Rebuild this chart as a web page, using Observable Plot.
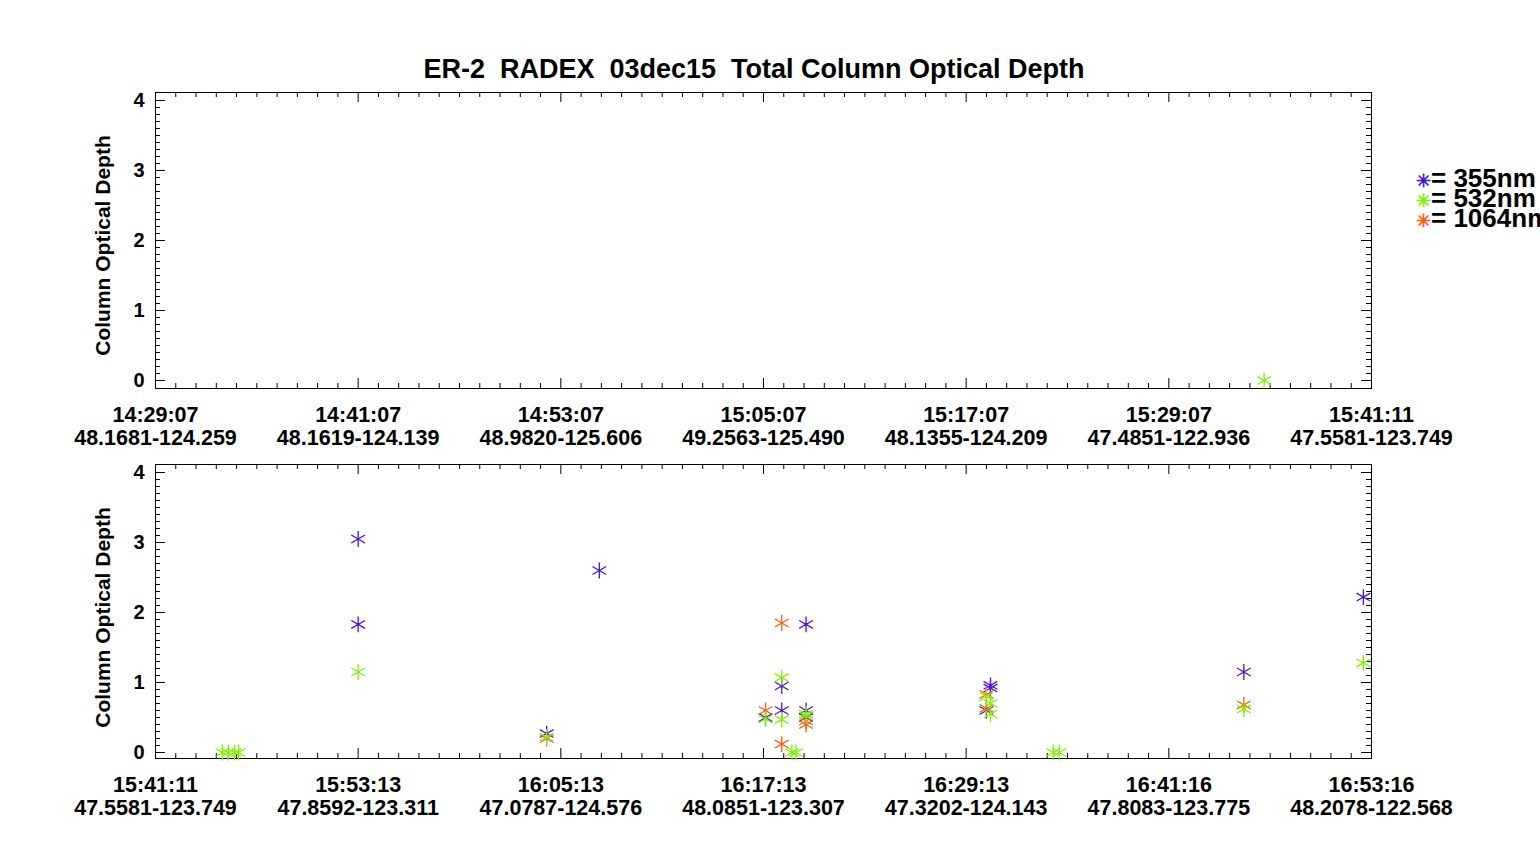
<!DOCTYPE html>
<html><head><meta charset="utf-8">
<script src="https://cdn.jsdelivr.net/npm/d3@7"></script>
<script src="https://cdn.jsdelivr.net/npm/@observablehq/plot@0.6"></script>
<style>
body{margin:0;background:#fff;font-family:"Liberation Sans",Arial,sans-serif;}
#wrap{position:relative;width:1540px;height:845px;overflow:hidden;}
.abs{position:absolute;left:0;}
#title{position:absolute;top:54px;left:0;width:1540px;text-align:center;margin-left:-16px;font-weight:bold;font-size:27px;}
#legend{position:absolute;left:1416px;top:170px;font-weight:bold;font-size:26px;line-height:17px;white-space:nowrap;}
#legend span{font-size:18px;}
</style></head><body>
<div id="wrap"><div id="title">ER-2&nbsp; RADEX&nbsp; 03dec15&nbsp; Total Column Optical Depth</div>
<div id="legend"><div><span style="color:#4a10d8">✳</span>= 355nm</div><div><span style="color:#80f000">✳</span>= 532nm</div><div><span style="color:#ff5a10">✳</span>= 1064nm</div></div></div>
<script>
const topTimes=["14:29:07","14:41:07","14:53:07","15:05:07","15:17:07","15:29:07","15:41:11"];
const topLocs=["48.1681-124.259","48.1619-124.139","48.9820-125.606","49.2563-125.490","48.1355-124.209","47.4851-122.936","47.5581-123.749"];
const botTimes=["15:41:11","15:53:13","16:05:13","16:17:13","16:29:13","16:41:16","16:53:16"];
const botLocs=["47.5581-123.749","47.8592-123.311","47.0787-124.576","48.0851-123.307","47.3202-124.143","47.8083-123.775","48.2078-122.568"];
// x in tick-interval units (0..6)
const top355=[]; const top532=[[5.47,0]]; const top1064=[];
const bot355=[[1.0,3.05],[1.0,1.83],[1.93,0.27],[2.19,2.6],[3.01,0.5],[3.09,0.95],[3.09,0.6],[3.21,1.83],[3.21,0.6],[3.21,0.5],[4.1,0.6],[4.12,0.96],[4.12,0.92],[5.96,2.22],[5.37,1.15]];
const bot532=[[0.33,0],[0.36,0],[0.39,0],[0.41,0],[1.0,1.15],[1.93,0.22],[3.01,0.48],[3.09,1.07],[3.09,0.47],[3.14,0],[3.16,0],[3.21,0.52],[3.21,0.55],[4.1,0.8],[4.12,0.55],[4.12,0.7],[4.43,0],[4.46,0],[5.37,0.62],[5.96,1.28]];
const bot1064=[[1.93,0.2],[3.01,0.6],[3.09,1.85],[3.09,0.12],[3.21,0.45],[3.21,0.4],[4.1,0.83],[4.1,0.63],[5.37,0.68]];
const colors={"355":"#4a10d8","532":"#80f000","1064":"#ff5a10"};
function rows(a,k){return a.map(([x,y])=>({x,y,k}));}
function panel(top,yMin,times,locs,d355,d532,d1064){
  const data=[...rows(d355,"355"),...rows(d1064,"1064"),...rows(d532,"532")];
  const xpu=202.67, ypu=70;
  const major=[0,1,2,3,4], minor=d3.range(0,41).map(i=>i/10).filter(v=>v%1!==0);
  const xt=d3.range(0,7), xm=d3.range(0,61).map(i=>i/10).filter(v=>v%1!==0);
  const lx=10/xpu, sx=5/xpu, ly=10/ypu, sy=5/ypu;
  const ymax=4+8/ypu;
  const p=Plot.plot({width:1540,height:380,marginTop:12,marginBottom:380-12-(ymax-yMin)*ypu,marginLeft:155,marginRight:169,
    x:{domain:[0,6],axis:null},y:{domain:[yMin,ymax],axis:null},
    style:{fontFamily:"Liberation Sans, Arial, sans-serif",fontWeight:"bold"},
    marks:[
      Plot.frame({stroke:"#000"}),
      Plot.ruleY(major,{x1:0,x2:lx,stroke:"#000"}),Plot.ruleY(major,{x1:6-lx,x2:6,stroke:"#000"}),
      Plot.ruleY(minor,{x1:0,x2:sx,stroke:"#000"}),Plot.ruleY(minor,{x1:6-sx,x2:6,stroke:"#000"}),
      Plot.ruleX(xt,{y1:yMin,y2:yMin+ly,stroke:"#000"}),Plot.ruleX(xt,{y1:ymax-ly,y2:ymax,stroke:"#000"}),
      Plot.ruleX(xm,{y1:yMin,y2:yMin+sy,stroke:"#000"}),Plot.ruleX(xm,{y1:ymax-sy,y2:ymax,stroke:"#000"}),
      Plot.text(major,{x:0,y:d=>d,text:d=>String(d),dx:-11,textAnchor:"end",fontSize:20,fontWeight:"bold"}),
      Plot.text(xt,{x:d=>d,y:yMin,text:d=>times[d],dy:27,fontSize:21.5,fontWeight:"bold"}),
      Plot.text(xt,{x:d=>d,y:yMin,text:d=>locs[d],dy:50,fontSize:21.5,fontWeight:"bold"}),
      Plot.text(["Column Optical Depth"],{x:0,y:2,text:d=>d,rotate:-90,dx:-52,dy:5,fontSize:21,fontWeight:"bold"}),
      Plot.dot(data,{x:"x",y:"y",symbol:"asterisk",r:7.5,stroke:d=>colors[d.k],strokeWidth:1.3})
    ]});
  p.classList.add("abs"); p.style.top=top+"px";
  document.getElementById("wrap").appendChild(p);
}
panel(80,-8/70,topTimes,topLocs,top355,top532,top1064);
panel(452,-6/70,botTimes,botLocs,bot355,bot532,bot1064);
</script></body></html>
